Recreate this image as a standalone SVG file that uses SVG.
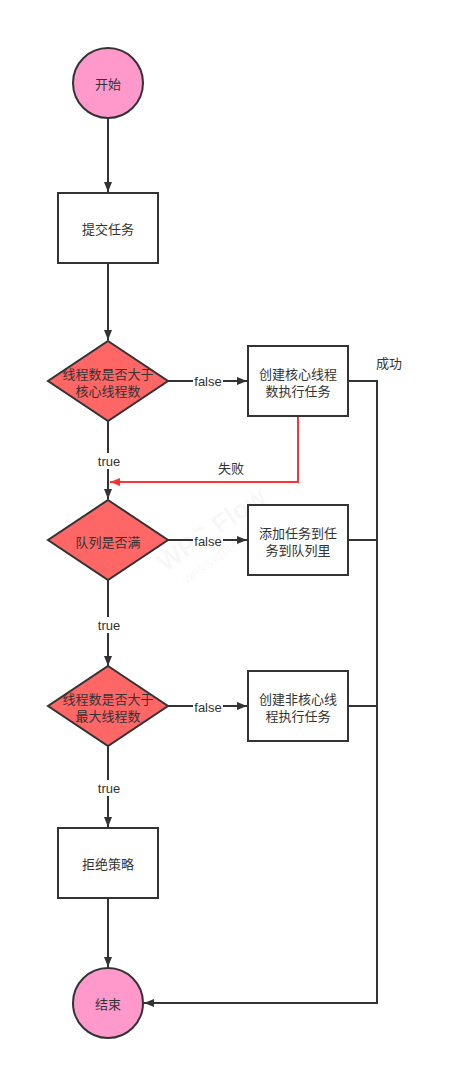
<svg xmlns="http://www.w3.org/2000/svg" width="451" height="1071" viewBox="0 0 451 1071">
<style>
.n{stroke:#333;stroke-width:2}
.c{fill:#ff99cc}
.d{fill:#ff6666}
.b{fill:#fff}
.t{font-family:"Noto Sans CJK SC","Liberation Sans",sans-serif;font-size:13px;fill:#333;text-anchor:middle;dominant-baseline:central}
.l{font-family:"Liberation Sans","Noto Sans CJK SC",sans-serif;font-size:13px;fill:#333;text-anchor:middle;dominant-baseline:central}
.e{fill:none;stroke:#333;stroke-width:2}
.r{fill:none;stroke:#ff3333;stroke-width:2}
.w{font-family:"Liberation Sans","Noto Sans CJK SC",sans-serif;fill:#000;fill-opacity:0.05;text-anchor:middle}
</style>
<defs>
<marker id="a" viewBox="0 0 10 10" refX="10" refY="5" markerWidth="10" markerHeight="10" markerUnits="userSpaceOnUse" orient="auto"><path d="M0,1 L10,5 L0,9 Z" fill="#333"/></marker>
<marker id="ar" viewBox="0 0 10 10" refX="10" refY="5" markerWidth="10" markerHeight="10" markerUnits="userSpaceOnUse" orient="auto"><path d="M0,1 L10,5 L0,9 Z" fill="#ff3333"/></marker>
</defs>
<rect width="451" height="1071" fill="#fff"/>
<g id="watermark">
<text class="w" x="212" y="538" font-size="26" font-weight="bold" transform="rotate(-35 212 530)">WPS Flow</text>
<text class="w" x="226" y="556" font-size="11" transform="rotate(-35 226 552)">WPS仅提供作图能力</text>
</g>
<g id="connectors">
<path class="e" d="M108,118 V192" marker-end="url(#a)"/>
<path class="e" d="M108,263 V340" marker-end="url(#a)"/>
<path class="e" d="M168,381 H247" marker-end="url(#a)"/>
<path class="e" d="M108,421 V499" marker-end="url(#a)"/>
<path class="r" d="M298,416 V482 H110" marker-end="url(#ar)"/>
<path class="e" d="M348,381 H377 V1003 H144" marker-end="url(#a)"/>
<path class="e" d="M168,540 H247" marker-end="url(#a)"/>
<path class="e" d="M348,540 H377"/>
<path class="e" d="M108,580 V666" marker-end="url(#a)"/>
<path class="e" d="M168,706 H247" marker-end="url(#a)"/>
<path class="e" d="M348,706 H377"/>
<path class="e" d="M108,746 V827" marker-end="url(#a)"/>
<path class="e" d="M108,898 V967" marker-end="url(#a)"/>
<rect x="193" y="373" width="30" height="16" fill="#fff"/>
<text class="l" x="208" y="381">false</text>
<rect x="193" y="532" width="30" height="16" fill="#fff"/>
<text class="l" x="208" y="541">false</text>
<rect x="193" y="698" width="30" height="16" fill="#fff"/>
<text class="l" x="208" y="707">false</text>
<rect x="94" y="453" width="30" height="16" fill="#fff"/>
<text class="l" x="109" y="461">true</text>
<rect x="94" y="617" width="30" height="16" fill="#fff"/>
<text class="l" x="109" y="625">true</text>
<rect x="94" y="780" width="30" height="16" fill="#fff"/>
<text class="l" x="109" y="788">true</text>
<text class="t" x="231" y="467">失败</text>
<text class="t" x="389" y="362">成功</text>
</g>
<g id="start">
<circle class="n c" cx="108" cy="83" r="35"/>
<text class="t" x="108" y="83">开始</text>
</g>
<g id="submit">
<rect class="n b" x="58" y="193" width="100" height="70"/>
<text class="t" x="108" y="228">提交任务</text>
</g>
<g id="check-core">
<path class="n d" d="M108,341 L168,381 L108,421 L48,381 Z"/>
<text class="t" x="108" y="373">线程数是否大于</text>
<text class="t" x="108" y="390">核心线程数</text>
</g>
<g id="create-core">
<rect class="n b" x="248" y="346" width="100" height="70"/>
<text class="t" x="298" y="373">创建核心线程</text>
<text class="t" x="298" y="390">数执行任务</text>
</g>
<g id="check-queue">
<path class="n d" d="M108,500 L168,540 L108,580 L48,540 Z"/>
<text class="t" x="108" y="541">队列是否满</text>
</g>
<g id="enqueue">
<rect class="n b" x="248" y="505" width="100" height="70"/>
<text class="t" x="298" y="532">添加任务到任</text>
<text class="t" x="298" y="549">务到队列里</text>
</g>
<g id="check-max">
<path class="n d" d="M108,666 L168,706 L108,746 L48,706 Z"/>
<text class="t" x="108" y="698">线程数是否大于</text>
<text class="t" x="108" y="715">最大线程数</text>
</g>
<g id="create-noncore">
<rect class="n b" x="248" y="671" width="100" height="70"/>
<text class="t" x="298" y="698">创建非核心线</text>
<text class="t" x="298" y="715">程执行任务</text>
</g>
<g id="reject">
<rect class="n b" x="58" y="828" width="100" height="70"/>
<text class="t" x="108" y="863">拒绝策略</text>
</g>
<g id="end">
<circle class="n c" cx="108" cy="1003" r="35"/>
<text class="t" x="108" y="1003">结束</text>
</g>
</svg>
